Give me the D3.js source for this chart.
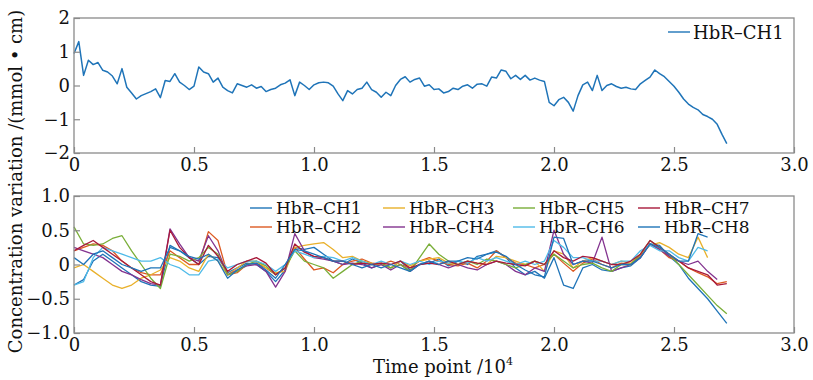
<!DOCTYPE html>
<html>
<head>
<meta charset="utf-8">
<script src="https://cdn.jsdelivr.net/npm/d3@7"></script>
<style>
  html, body { margin: 0; padding: 0; background: #fff; }
  svg { display: block; font-family: "DejaVu Serif", serif; }
</style>
</head>
<body>
<svg id="chart" width="813" height="380"></svg>
<script>
// x axis ticks (time point, x10^4)
const xTicks = [0, 0.5, 1.0, 1.5, 2.0, 2.5, 3.0];
const xTickLabels = ["0", "0.5", "1.0", "1.5", "2.0", "2.5", "3.0"];
const topYTicks = [-2, -1, 0, 1, 2];
const topYTickLabels = ["\u22122", "\u22121", "0", "1", "2"];
const botYTicks = [-1, -0.5, 0, 0.5, 1];
const botYTickLabels = ["\u22121.0", "\u22120.5", "0", "0.5", "1.0"];

// top panel: HbR-CH1, one sample every 0.02 (x10^4)
const topStep = 0.02;
const topCH1 = [
  0.95, 1.30, 0.30, 0.75, 0.62, 0.68, 0.45, 0.40, 0.28, 0.05,
  0.50, -0.05, -0.22, -0.40, -0.30, -0.24, -0.18, -0.10, -0.36, 0.15,
  0.12, 0.35, 0.10, 0.00, -0.12, -0.02, 0.55, 0.40, 0.35, 0.10,
  0.22, -0.05, -0.15, -0.22, 0.05, 0.00, -0.05, 0.02, -0.08, -0.03,
  -0.18, -0.12, -0.08, 0.02, 0.07, 0.17, -0.30, 0.10, 0.00, -0.12,
  0.02, 0.08, 0.10, 0.08, -0.02, -0.25, -0.45, -0.15, -0.25, -0.12,
  -0.08, 0.10, -0.12, -0.20, -0.35, -0.20, -0.30, 0.00, 0.18, 0.26,
  0.10, 0.18, 0.22, -0.02, 0.02, -0.12, -0.10, -0.22, -0.18, -0.08,
  -0.12, -0.02, 0.02, -0.08, 0.04, 0.05, -0.02, 0.25, 0.22, 0.46,
  0.42, 0.20, 0.30, 0.18, 0.30, 0.16, 0.22, 0.16, 0.12, -0.50,
  -0.60, -0.42, -0.35, -0.50, -0.76, -0.30, 0.02, 0.10, -0.15, 0.30,
  -0.15, 0.00, 0.05, -0.03, -0.08, -0.05, -0.10, -0.12, 0.05, 0.15,
  0.25, 0.46, 0.35, 0.26, 0.12, -0.02, -0.20, -0.40, -0.55, -0.65,
  -0.72, -0.86, -0.92, -1.00, -1.15, -1.45, -1.72
];

// bottom panel: eight channels, one sample every 0.04 (x10^4)
const botStep = 0.04;
const channelNames = ["HbR\u2013CH1", "HbR\u2013CH2", "HbR\u2013CH3", "HbR\u2013CH4",
                      "HbR\u2013CH5", "HbR\u2013CH6", "HbR\u2013CH7", "HbR\u2013CH8"];
const channelColors = ["#1f74b8", "#dd5a22", "#e9b02a", "#83338f",
                       "#79ae38", "#4fbbe9", "#a8193a", "#1f74b8"];
const ch1 = [
  -0.30, -0.22, 0.05, 0.15, 0.05, -0.05, -0.15, -0.25, -0.30, -0.32,
  0.28, 0.20, 0.10, 0.00, 0.12, 0.10, -0.12, -0.05, 0.02, 0.00,
  -0.10, -0.25, -0.08, 0.25, 0.22, 0.25, 0.15, 0.05, 0.00, 0.08,
  0.02, -0.05, 0.00, -0.05, 0.05, -0.08, 0.00, 0.02, 0.08, -0.02,
  0.05, 0.00, 0.12, 0.15, 0.20, 0.10, -0.05, -0.15, -0.10, -0.20,
  0.10, -0.30, -0.35, -0.05, 0.00, -0.08, -0.10, -0.05, -0.02, 0.10,
  0.30, 0.28, 0.12, 0.00, -0.20, -0.35, -0.50, -0.68, -0.86
];
const ch2 = [
  0.20, 0.25, 0.30, 0.28, 0.20, 0.05, -0.05, -0.12, -0.15, -0.15,
  0.20, 0.10, 0.00, 0.00, 0.48, 0.35, -0.15, -0.12, 0.00, 0.02,
  -0.05, -0.15, -0.05, 0.25, 0.08, -0.08, -0.05, -0.12, 0.00, 0.05,
  0.08, 0.02, 0.00, 0.05, 0.00, -0.05, 0.05, 0.10, 0.05, 0.00,
  -0.02, 0.02, -0.05, 0.05, 0.20, 0.10, 0.02, 0.00, -0.05, 0.00,
  0.15, 0.02, -0.10, 0.02, 0.08, 0.00, -0.05, 0.02, 0.00, 0.12,
  0.30, 0.22, 0.10, 0.05, -0.05, -0.12, -0.18, -0.28, -0.25
];
const ch3 = [
  -0.05, 0.00, -0.10, -0.20, -0.30, -0.35, -0.30, -0.20, -0.15, -0.08,
  0.10, 0.05, -0.05, -0.10, 0.15, 0.05, -0.15, -0.05, 0.05, 0.05,
  -0.05, -0.12, -0.10, 0.25, 0.28, 0.30, 0.32, 0.22, 0.10, 0.12,
  0.05, 0.02, 0.00, -0.05, 0.05, -0.02, 0.05, 0.08, 0.10, 0.02,
  0.00, 0.05, 0.02, 0.00, 0.12, 0.10, 0.05, 0.00, 0.05, -0.10,
  0.20, 0.15, -0.05, 0.05, 0.10, 0.05, 0.00, 0.05, 0.02, 0.15,
  0.28, 0.32, 0.25, 0.15, 0.10, 0.40, 0.10
];
const ch4 = [
  0.25, 0.20, 0.15, 0.10, 0.00, -0.10, -0.15, -0.22, -0.28, -0.30,
  0.52, 0.30, 0.10, 0.05, 0.42, 0.20, -0.15, -0.08, -0.02, 0.00,
  -0.10, -0.33, -0.10, 0.45, 0.20, 0.10, 0.08, 0.05, 0.00, 0.02,
  0.00, -0.05, 0.00, -0.08, 0.00, -0.10, 0.00, 0.05, 0.00, -0.05,
  0.00, -0.05, -0.08, 0.00, 0.05, 0.00, -0.10, -0.15, -0.05, -0.10,
  0.50, 0.15, 0.00, 0.05, 0.02, 0.40, -0.10, -0.05, 0.00, 0.10,
  0.30, 0.22, 0.12, 0.05, 0.00, 0.05, -0.10, -0.22
];
const ch5 = [
  0.55, 0.30, 0.28, 0.30, 0.38, 0.42, 0.20, 0.00, -0.20, -0.35,
  0.15, 0.12, 0.05, 0.10, 0.25, 0.15, -0.15, -0.10, 0.00, 0.05,
  -0.02, -0.15, -0.05, 0.20, 0.05, 0.00, -0.05, -0.20, -0.10, 0.00,
  0.05, 0.00, 0.02, -0.05, 0.00, -0.10, 0.10, 0.30, 0.15, 0.05,
  0.00, 0.05, 0.00, 0.08, 0.05, 0.00, -0.05, 0.00, 0.05, 0.00,
  0.15, 0.05, -0.05, 0.00, 0.02, -0.05, -0.10, 0.00, 0.00, 0.15,
  0.35, 0.25, 0.15, 0.00, -0.15, -0.30, -0.45, -0.60, -0.72
];
const ch6 = [
  -0.30, -0.25, 0.10, 0.25, 0.20, 0.15, 0.10, 0.05, 0.05, 0.10,
  0.00, -0.05, -0.15, -0.15, 0.05, 0.08, -0.05, 0.00, 0.05, 0.05,
  0.00, -0.10, 0.00, 0.20, 0.15, 0.10, 0.12, 0.10, 0.05, 0.10,
  0.05, 0.00, 0.05, 0.00, 0.05, 0.00, 0.05, 0.00, 0.05, 0.02,
  0.05, 0.02, 0.10, 0.05, 0.10, 0.05, 0.00, 0.05, 0.00, 0.05,
  0.35, 0.25, 0.10, 0.10, 0.05, 0.05, 0.00, 0.05, 0.05, 0.20,
  0.28, 0.20, 0.20, 0.10, 0.05, 0.25, 0.20
];
const ch7 = [
  0.20, 0.28, 0.35, 0.25, 0.15, 0.05, -0.05, -0.15, -0.25, -0.30,
  0.50, 0.25, 0.10, 0.00, 0.28, 0.12, -0.10, 0.00, 0.05, 0.10,
  0.02, -0.15, -0.05, 0.30, 0.18, 0.12, 0.10, 0.05, 0.05, 0.00,
  0.02, 0.00, 0.02, 0.00, 0.05, -0.05, 0.00, 0.02, 0.00, 0.05,
  0.00, 0.05, 0.02, 0.00, 0.05, 0.02, 0.00, -0.02, 0.05, 0.00,
  0.20, 0.10, 0.05, 0.12, 0.10, 0.05, 0.00, 0.00, 0.05, 0.15,
  0.35, 0.25, 0.15, 0.05, -0.05, -0.10, -0.15, -0.30, -0.28
];
const ch8 = [
  0.10, 0.00, 0.15, 0.20, 0.10, 0.00, -0.05, -0.10, -0.05, -0.05,
  0.25, 0.20, 0.12, 0.08, 0.15, 0.05, -0.20, -0.08, 0.00, 0.02,
  -0.08, -0.20, 0.00, 0.22, 0.20, 0.15, 0.10, 0.05, 0.05, 0.00,
  -0.05, 0.00, -0.05, 0.00, -0.05, -0.10, 0.00, 0.05, 0.00, 0.05,
  0.05, 0.10, 0.08, 0.15, 0.18, 0.12, 0.00, -0.08, -0.15, -0.18,
  0.40, 0.38, 0.00, 0.05, 0.05, 0.00, -0.05, 0.00, 0.00, 0.10,
  0.30, 0.25, 0.15, 0.05, 0.05, 0.45, 0.40
];
const channels = [ch1, ch2, ch3, ch4, ch5, ch6, ch7, ch8];

// layout
const plotLeft = 74, plotRight = 794;
const topPanel = { top: 18, bottom: 153 };
const botPanel = { top: 196, bottom: 333 };
const fontSize = "18px";

const svg = d3.select("#chart");

const x = d3.scaleLinear().domain([0, 3]).range([plotLeft, plotRight]);
const yTop = d3.scaleLinear().domain([-2, 2]).range([topPanel.bottom, topPanel.top]);
const yBot = d3.scaleLinear().domain([-1, 1]).range([botPanel.bottom, botPanel.top]);

function drawAxes(panel, y, yTicks, yLabels) {
  const g = svg.append("g");
  // bottom axis, ticks pointing inward
  const xa = g.append("g")
    .attr("transform", `translate(0,${panel.bottom})`)
    .call(d3.axisBottom(x).tickValues(xTicks).tickSize(-6).tickPadding(5)
      .tickFormat((d, i) => xTickLabels[i]));
  const ya = g.append("g")
    .attr("transform", `translate(${plotLeft},0)`)
    .call(d3.axisLeft(y).tickValues(yTicks).tickSize(-6).tickPadding(4)
      .tickFormat((d, i) => yLabels[i]));
  [xa, ya].forEach(a => {
    a.select(".domain").remove();
    a.selectAll(".tick line").attr("stroke", "#8a8a8a").attr("stroke-width", 1.2);
    a.selectAll(".tick text").attr("fill", "#111").style("font-size", fontSize)
      .style("font-family", "'DejaVu Serif', serif");
  });
  // frame
  g.append("rect")
    .attr("x", plotLeft).attr("y", panel.top)
    .attr("width", plotRight - plotLeft).attr("height", panel.bottom - panel.top)
    .attr("fill", "none").attr("stroke", "#8a8a8a").attr("stroke-width", 1.3);
}

// top panel
const lineTop = d3.line().x((d, i) => x(i * topStep)).y(d => yTop(d));
svg.append("path")
  .datum(topCH1)
  .attr("fill", "none")
  .attr("stroke", channelColors[0])
  .attr("stroke-width", 1.5)
  .attr("stroke-linejoin", "round")
  .attr("d", lineTop);
drawAxes(topPanel, yTop, topYTicks, topYTickLabels);

// top legend
const legTop = svg.append("g").attr("transform", "translate(668,32)");
legTop.append("line").attr("x1", 0).attr("x2", 22).attr("y1", 0).attr("y2", 0)
  .attr("stroke", channelColors[0]).attr("stroke-width", 1.4);
legTop.append("text").attr("x", 25).attr("y", 6.5).text(channelNames[0])
  .style("font-size", fontSize).attr("fill", "#111");

// bottom panel
const lineBot = d3.line().x((d, i) => x(i * botStep)).y(d => yBot(d));
channels.forEach((vals, k) => {
  svg.append("path")
    .datum(vals)
    .attr("fill", "none")
    .attr("stroke", channelColors[k])
    .attr("stroke-width", 1.3)
    .attr("stroke-linejoin", "round")
    .attr("d", lineBot);
});
drawAxes(botPanel, yBot, botYTicks, botYTickLabels);

// bottom legend: 4 columns x 2 rows
const legCols = [250, 383, 513, 638];
const legRows = [208, 227];
channelNames.forEach((name, k) => {
  const g = svg.append("g")
    .attr("transform", `translate(${legCols[Math.floor(k / 2)]},${legRows[k % 2]})`);
  g.append("line").attr("x1", 0).attr("x2", 22).attr("y1", 0).attr("y2", 0)
    .attr("stroke", channelColors[k]).attr("stroke-width", 1.4);
  g.append("text").attr("x", 26).attr("y", 6).text(name)
    .style("font-size", "17px").attr("fill", "#111");
});

// axis titles
svg.append("text")
  .attr("transform", `translate(22,${(8 + 355) / 2}) rotate(-90)`)
  .attr("text-anchor", "middle")
  .style("font-size", fontSize).attr("fill", "#111")
  .text("Concentration variation /(mmol \u2022 cm)");

const xt = svg.append("text")
  .attr("x", 443).attr("y", 373)
  .attr("text-anchor", "middle")
  .style("font-size", fontSize).attr("fill", "#111");
xt.append("tspan").text("Time point /10");
xt.append("tspan").attr("dy", -8).style("font-size", "11px").text("4");
</script>
</body>
</html>
